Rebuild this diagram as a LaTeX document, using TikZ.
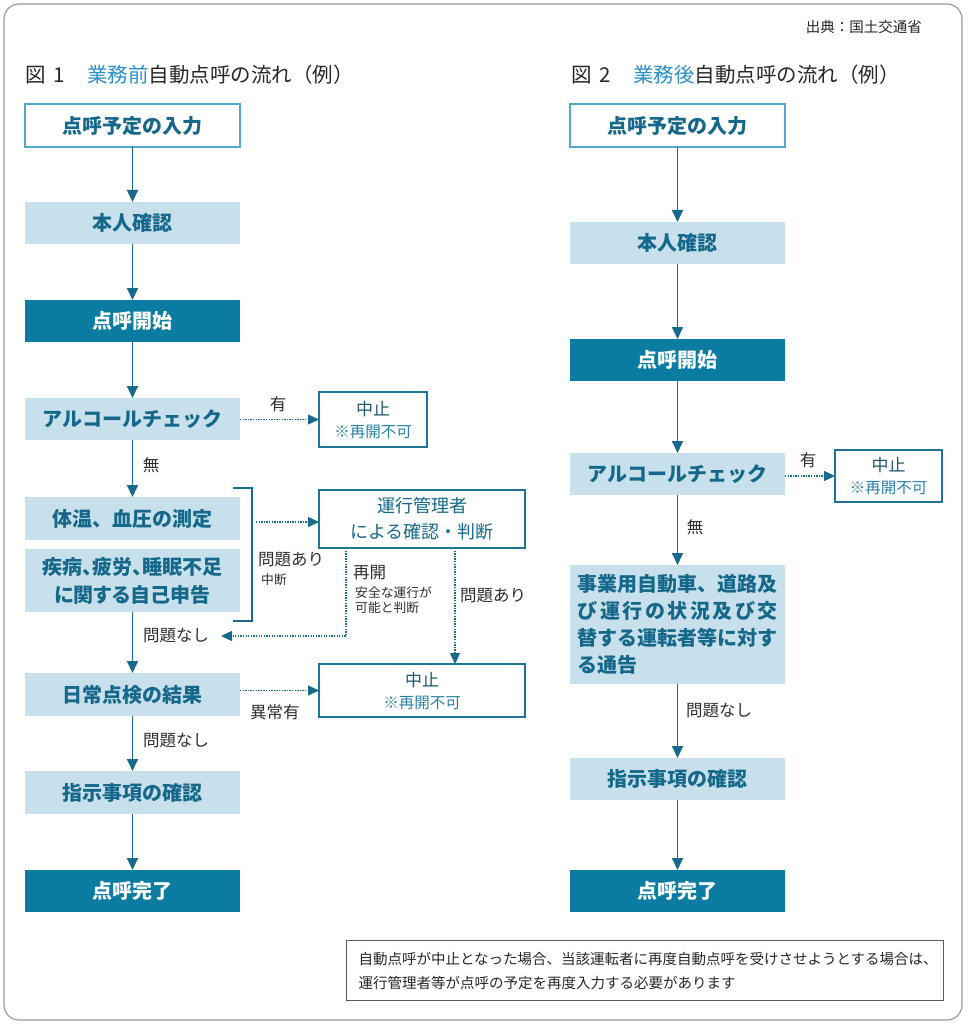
\documentclass[tikz,border=0pt]{standalone}
\usepackage{fontspec}
\setmainfont{Noto Sans CJK JP}
\usetikzlibrary{arrows.meta,calc}
\definecolor{cdark}{HTML}{0A7CA1}
\definecolor{clight}{HTML}{C7E0EC}
\definecolor{ctext}{HTML}{15688A}
\definecolor{cborder}{HTML}{55A8CC}
\definecolor{carrow}{HTML}{176A8A}
\definecolor{cstop}{HTML}{1E7596}
\definecolor{cstoptxt}{HTML}{1D5870}
\definecolor{cteal}{HTML}{2A82A4}
\definecolor{clab}{HTML}{2E2E2E}
\definecolor{ctitle}{HTML}{2A90C8}
\definecolor{cframe}{HTML}{9A9A9A}
\tikzset{
  base/.style={inner sep=0pt, outer sep=0pt, minimum width=215pt, align=center, font=\bfseries\fontsize{20}{24}\selectfont},
  wbox/.style={base, draw=cborder, line width=1.3pt, fill=white, text=ctext},
  lbox/.style={base, fill=clight, text=ctext},
  dbox/.style={base, fill=cdark, text=white},
  stopbox/.style={draw=cstop, line width=1.5pt, fill=white, inner sep=0pt, outer sep=0pt, align=center, text=cstoptxt, font=\fontsize{17}{22}\selectfont},
  arr/.style={draw=carrow, line width=1.8pt, -{Triangle[length=12pt,width=11pt]}},
  dotarr/.style={draw=carrow, line width=1.3pt, dash pattern=on 1.3pt off 1.3pt, -{Triangle[length=11pt,width=10pt]}},
  lab/.style={text=clab, font=\fontsize{16.5}{20}\selectfont, inner sep=0pt},
  smalllab/.style={text=clab, font=\fontsize{12.8}{15}\selectfont, inner sep=0pt},
  titlestyle/.style={text=black!85, font=\fontsize{20.5}{24}\selectfont, inner sep=0pt, anchor=west},
}
\newcommand{\mystoptxt}{中止\\\fontsize{15.5}{20}\selectfont\color{cteal}※再開不可}
\begin{document}
\begin{tikzpicture}[x=1pt,y=-1pt]
\useasboundingbox (0,0) rectangle (967,1024);
\draw[draw=cframe, line width=1.2pt, rounded corners=15pt] (4,4) rectangle (962,1020);

% source and titles
\node[text=black!85, font=\fontsize{14.5}{18}\selectfont, inner sep=0pt, anchor=east] (src) at (922,27) {出典：国土交通省};
\node[titlestyle] (t1) at (25,75) {図\hspace{8pt}1\hspace{22pt}\textcolor{ctitle}{業務前}自動点呼の流れ（例）};
\node[titlestyle] (t2) at (571,75) {図\hspace{8pt}2\hspace{22pt}\textcolor{ctitle}{業務後}自動点呼の流れ（例）};

% left column
\node[wbox, minimum height=43pt] (a1) at (132.5,125.5) {点呼予定の入力};
\node[lbox, minimum height=42pt] (a2) at (132.5,223) {本人確認};
\node[dbox, minimum height=42pt] (a3) at (132.5,321) {点呼開始};
\node[lbox, minimum height=42pt] (a4) at (132.5,419) {アルコールチェック};
\node[lbox, minimum height=43pt] (a5) at (132.5,518.5) {体温、血圧の測定};
\node[lbox, minimum height=63pt, font=\bfseries\fontsize{20}{28}\selectfont\addfontfeatures{RawFeature=+palt}] (a6) at (132.5,580.5) {疾病、疲労、睡眠不足\\に関する自己申告};
\node[lbox, minimum height=43pt] (a7) at (132.5,694.5) {日常点検の結果};
\node[lbox, minimum height=43pt] (a8) at (132.5,792.5) {指示事項の確認};
\node[dbox, minimum height=42pt] (a9) at (132.5,891) {点呼完了};

\node[stopbox, minimum width=108pt, minimum height=55pt] (s1) at (373,419.5) {\mystoptxt};
\node[stopbox, minimum width=206pt, minimum height=58pt, text=ctext, font=\fontsize{18}{26}\selectfont] (kanri) at (422,519) {運行管理者\\による確認・判断};
\node[stopbox, minimum width=206pt, minimum height=53pt] (s2) at (422,690.5) {\mystoptxt};

\draw[arr] (a1) -- (a2);
\draw[arr] (a2) -- (a3);
\draw[arr] (a3) -- (a4);
\draw[arr] (a4) -- (a5);
\draw[arr] (a6) -- (a7);
\draw[arr] (a7) -- (a8);
\draw[arr] (a8) -- (a9);

\draw[dotarr] (a4.east |- s1.west) -- (s1.west);
\draw[dotarr] (a7.east |- s2.west) -- (s2.west);

% bracket
\coordinate (br1) at (233,488);
\coordinate (br2) at (252,488);
\coordinate (br3) at (252,621);
\coordinate (br4) at (233,621);
\draw[carrow, line width=1.8pt] (br1) -- (br2) -- (br3) -- (br4);
\coordinate (bm) at (256,522);
\draw[dotarr] (bm) -- (bm -| kanri.west);

\coordinate (r1) at (346,636);
\coordinate (rend) at (221,636);
\draw[dotarr] (kanri.south -| r1) -- (r1) -- (rend);
\coordinate (px) at (455,600);
\draw[dotarr] (kanri.south -| px) -- (s2.north -| px);

\node[lab] (l1) at (278,404) {有};
\node[lab] (l2) at (151,465) {無};
\node[lab, anchor=west] (l3) at (258,560) {問題あり};
\node[smalllab, anchor=west] (l4) at (261,580) {中断};
\node[lab, anchor=west] (l5) at (353,573) {再開};
\node[smalllab, anchor=west] (l6) at (355,593) {安全な運行が};
\node[smalllab, anchor=west] (l7) at (355,608) {可能と判断};
\node[lab, anchor=west] (l8) at (460,596) {問題あり};
\node[lab, anchor=west] (l9) at (143,636) {問題なし};
\node[lab, anchor=west] (l10) at (250,712) {異常有};
\node[lab, anchor=west] (l11) at (143,741) {問題なし};

% right column
\node[wbox, minimum height=43pt] (b1) at (677.5,125.5) {点呼予定の入力};
\node[lbox, minimum height=42pt] (b2) at (677.5,243) {本人確認};
\node[dbox, minimum height=42pt] (b3) at (677.5,360) {点呼開始};
\node[lbox, minimum height=42pt] (b4) at (677.5,474) {アルコールチェック};
\node[lbox, minimum height=119pt, text width=200pt, align=left, font=\bfseries\fontsize{20}{27}\selectfont] (b5) at (677.5,624.5) {事業用自動車、道路及\\\makebox[200pt][s]{び\hfil 運\hfil 行\hfil の\hfil 状\hfil 況\hfil 及\hfil び\hfil 交}\\替する運転者等に対す\\る通告};
\node[lbox, minimum height=42pt] (b6) at (677.5,779) {指示事項の確認};
\node[dbox, minimum height=42pt] (b7) at (677.5,891) {点呼完了};
\node[stopbox, minimum width=107pt, minimum height=52pt] (s3) at (888.5,476) {\mystoptxt};

\draw[arr] (b1) -- (b2);
\draw[arr] (b2) -- (b3);
\draw[arr] (b3) -- (b4);
\draw[arr] (b4) -- (b5);
\draw[arr] (b5) -- (b6);
\draw[arr] (b6) -- (b7);
\draw[dotarr] (b4.east |- s3.west) -- (s3.west);

\node[lab] (m1) at (808,460) {有};
\node[lab] (m2) at (695,527) {無};
\node[lab, anchor=west] (m3) at (686,711) {問題なし};

% note
\node[draw=black!65, line width=1pt, anchor=north west, minimum width=597pt, minimum height=60pt, inner xsep=12pt, inner ysep=0pt, text width=573pt, align=left, font=\fontsize{14.5}{24}\selectfont, text=black!85] (note) at (346,940) {自動点呼が中止となった場合、当該運転者に再度自動点呼を受けさせようとする場合は、\\運行管理者等が点呼の予定を再度入力する必要があります};
\end{tikzpicture}
\end{document}
